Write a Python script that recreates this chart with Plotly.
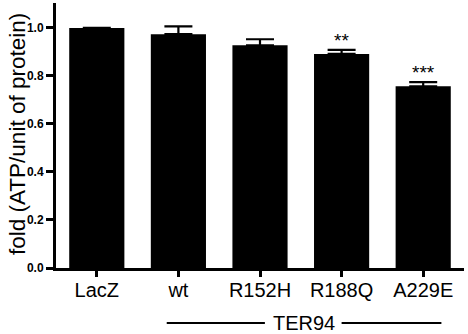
import plotly.graph_objects as go

categories = ["LacZ", "wt", "R152H", "R188Q", "A229E"]
values = [1.0, 0.974, 0.928, 0.892, 0.757]
errors = [0.0, 0.033, 0.025, 0.017, 0.017]
stars = ["", "", "", "**", "***"]
group_label = "TER94"
y_title = "fold (ATP/unit of protein)"

x = list(range(len(categories)))

fig = go.Figure()
fig.add_trace(go.Bar(
    x=x, y=values, width=0.676,
    marker=dict(color="black", line=dict(width=0)),
    error_y=dict(type="data", symmetric=False, array=errors,
                 arrayminus=[0] * len(errors), color="black",
                 thickness=2.2, width=14),
    showlegend=False,
))

for i, s in enumerate(stars):
    if s:
        fig.add_annotation(x=x[i], y=values[i] + errors[i], text=s,
                           showarrow=False, yanchor="bottom", yshift=-3,
                           font=dict(family="Liberation Sans", size=19, color="black"))

# group bracket
GY = -0.2075
fig.add_annotation(x=2.54, y=GY, xref="x", yref="paper", text=group_label,
                   showarrow=False, yanchor="middle",
                   font=dict(family="Liberation Sans", size=20, color="black"))
for x0, x1 in [(0.857, 2.06), (3.0, 4.223)]:
    fig.add_shape(type="line", xref="x", yref="paper", x0=x0, x1=x1,
                  y0=GY, y1=GY, line=dict(color="black", width=2))

# y-axis title
fig.add_annotation(x=-0.096, y=0.505, xref="paper", yref="paper", text=y_title,
                   textangle=-90, showarrow=False, xanchor="center", yanchor="middle",
                   font=dict(family="Liberation Sans", size=22.5, color="black"))

fig.update_layout(
    width=468, height=334,
    margin=dict(l=56, r=4, t=3, b=66, autoexpand=False),
    plot_bgcolor="white", paper_bgcolor="white",
    font=dict(family="Liberation Sans", color="black"),
)
fig.update_xaxes(
    range=[-0.5, 4.5], tickvals=x, ticktext=categories, automargin=False,
    showline=True, linecolor="black", linewidth=3,
    ticks="outside", ticklen=6, tickwidth=2.5, tickcolor="black",
    ticklabelstandoff=-4,
    tickfont=dict(family="Liberation Sans", size=20, color="black"),
    showgrid=False, zeroline=False,
)
fig.update_yaxes(
    range=[0, 1.104], tickvals=[0, 0.2, 0.4, 0.6, 0.8, 1.0], tickformat=".1f",
    automargin=False,
    showline=True, linecolor="black", linewidth=3,
    ticks="outside", ticklen=7, tickwidth=2.5, tickcolor="black",
    tickfont=dict(family="Liberation Sans", size=12, color="black", weight="bold"),
    showgrid=False, zeroline=False,
)

fig.write_html("out.html", config={"displayModeBar": False},
               post_script="document.body.style.margin='0';")
